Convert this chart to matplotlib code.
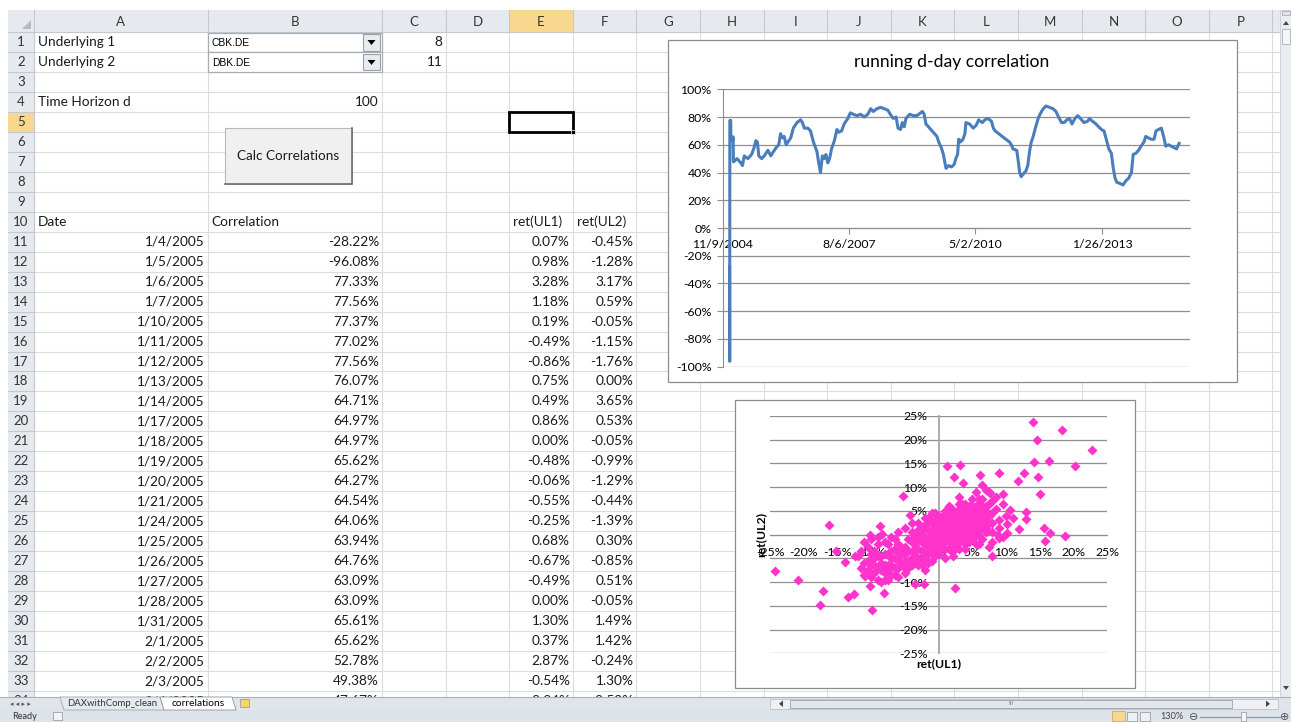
import datetime as dt
import matplotlib
matplotlib.use('Agg')
import matplotlib.pyplot as plt
from matplotlib.patches import Rectangle, Polygon

# sheet table (rows 11-34)
table_dates = ['1/4/2005', '1/5/2005', '1/6/2005', '1/7/2005', '1/10/2005', '1/11/2005',
               '1/12/2005', '1/13/2005', '1/14/2005', '1/17/2005', '1/18/2005', '1/19/2005',
               '1/20/2005', '1/21/2005', '1/24/2005', '1/25/2005', '1/26/2005', '1/27/2005',
               '1/28/2005', '1/31/2005', '2/1/2005', '2/2/2005', '2/3/2005', '2/4/2005']
table_corr = [-28.22, -96.08, 77.33, 77.56, 77.37, 77.02, 77.56, 76.07, 64.71, 64.97, 64.97, 65.62,
              64.27, 64.54, 64.06, 63.94, 64.76, 63.09, 63.09, 65.61, 65.62, 52.78, 49.38, 47.67]
ret_ul1 = [0.07, 0.98, 3.28, 1.18, 0.19, -0.49, -0.86, 0.75, 0.49, 0.86, 0.00, -0.48,
           -0.06, -0.55, -0.25, 0.68, -0.67, -0.49, 0.00, 1.30, 0.37, 2.87, -0.54, -0.34]
ret_ul2 = [-0.45, -1.28, 3.17, 0.59, -0.05, -1.15, -1.76, 0.00, 3.65, 0.53, -0.05, -0.99,
           -1.29, -0.44, -1.39, 0.30, -0.85, 0.51, -0.05, 1.49, 1.42, -0.24, 1.30, -2.50]

# running correlation after the table rows (%)
trend_dates = [
    '2005-03-04', '2005-04-02', '2005-04-16', '2005-04-30', '2005-05-29', '2005-06-27', '2005-07-17', '2005-07-31', '2005-08-12', '2005-08-23',
    '2005-09-15', '2005-10-05', '2005-11-03', '2005-11-26', '2005-12-16', '2006-01-08', '2006-01-28', '2006-02-11', '2006-02-26', '2006-03-12',
    '2006-03-27', '2006-04-10', '2006-05-03', '2006-05-23', '2006-06-21', '2006-07-20', '2006-08-03', '2006-08-18', '2006-09-15', '2006-10-06',
    '2006-10-29', '2006-11-26', '2006-12-10', '2006-12-24', '2007-01-08', '2007-01-22', '2007-02-05', '2007-02-20', '2007-03-06', '2007-03-21',
    '2007-04-13', '2007-05-03', '2007-05-17', '2007-06-09', '2007-06-29', '2007-07-28', '2007-08-17', '2007-09-09', '2007-10-08', '2007-11-06',
    '2007-12-04', '2008-01-02', '2008-01-25', '2008-02-14', '2008-03-14', '2008-04-12', '2008-05-10', '2008-06-08', '2008-06-28', '2008-07-21',
    '2008-08-13', '2008-08-28', '2008-09-17', '2008-10-01', '2008-10-16', '2008-10-30', '2008-11-28', '2008-12-27', '2009-01-24', '2009-02-22',
    '2009-03-09', '2009-03-23', '2009-04-06', '2009-05-05', '2009-06-03', '2009-07-02', '2009-07-16', '2009-08-05', '2009-08-22', '2009-09-03',
    '2009-09-12', '2009-10-02', '2009-10-25', '2009-11-16', '2009-11-28', '2009-12-12', '2009-12-21', '2010-01-04', '2010-01-24', '2010-02-08',
    '2010-02-16', '2010-03-17', '2010-04-15', '2010-05-08', '2010-05-28', '2010-06-26', '2010-07-16', '2010-08-08', '2010-09-06', '2010-09-21',
    '2010-10-05', '2010-11-03', '2010-11-30', '2010-12-29', '2011-01-27', '2011-02-10', '2011-02-24', '2011-03-25', '2011-04-08', '2011-04-17',
    '2011-04-29', '2011-05-16', '2011-06-05', '2011-06-20', '2011-07-04', '2011-07-18', '2011-08-02', '2011-08-22', '2011-09-14', '2011-10-13',
    '2011-11-10', '2011-12-09', '2012-01-06', '2012-01-29', '2012-02-19', '2012-03-13', '2012-04-02', '2012-04-25', '2012-05-15', '2012-06-04',
    '2012-06-27', '2012-07-20', '2012-08-09', '2012-09-07', '2012-10-06', '2012-10-20', '2012-11-12', '2012-12-11', '2012-12-31', '2013-01-23',
    '2013-02-12', '2013-03-05', '2013-03-22', '2013-04-11', '2013-04-25', '2013-05-10', '2013-05-24', '2013-06-22', '2013-07-12', '2013-08-04',
    '2013-08-27', '2013-09-17', '2013-10-01', '2013-10-24', '2013-11-12', '2013-12-02', '2013-12-25', '2014-01-08', '2014-01-28', '2014-02-20',
    '2014-03-15', '2014-03-30', '2014-04-19', '2014-05-12', '2014-06-01', '2014-06-15', '2014-07-08', '2014-07-28', '2014-08-20', '2014-09-09',
    '2014-09-29']
trend_values = [50, 47, 45, 52, 50, 53, 58, 63, 62, 52,
                50, 52, 56, 52, 55, 58, 60, 68, 65, 66,
                60, 62, 65, 72, 76, 78, 76, 72, 72, 70,
                62, 55, 47, 40, 52, 50, 53, 47, 50, 57,
                63, 71, 69, 70, 75, 79, 83, 82, 81, 82,
                80, 82, 86, 84, 86, 87, 86, 85, 82, 79,
                80, 72, 71, 76, 73, 79, 82, 81, 81, 83,
                84, 82, 75, 72, 69, 66, 62, 58, 53, 47,
                43, 45, 44, 46, 50, 53, 64, 62, 64, 68,
                76, 75, 72, 74, 78, 76, 78, 79, 77, 72,
                70, 68, 66, 64, 62, 60, 57, 56, 47, 40,
                37, 39, 41, 45, 55, 62, 66, 73, 80, 85,
                88, 87, 86, 84, 80, 76, 76, 78, 79, 75,
                79, 81, 79, 76, 77, 79, 77, 75, 73, 71,
                70, 63, 57, 54, 44, 36, 33, 32, 31, 34,
                36, 40, 53, 54, 56, 59, 62, 66, 65, 64,
                64, 70, 71, 72, 65, 59, 60, 59, 58, 57,
                61]

# scatter: scattered outlying returns (%)
outlier_ul1 = [14.0, 18.3, 14.6, 22.8, 14.1, 16.4, 20.2, 14.8, 15.0, 12.7,
               11.8, 9.0, 1.3, 3.2, 2.3, 3.6, 6.1, 6.5, 7.7, 9.5,
               10.6, 13.0, 13.0, 12.0, 15.6, 16.6, 18.7, 15.8, 10.2, 10.1,
               8.9, 9.0, 7.9, 2.5, 2.2, -5.2, -16.3, -15.2, -13.9, -12.4,
               -24.2, -20.8, -17.1, -17.6, -13.4, -12.5, -9.9, -8.1, -10.2, -10.9,
               -3.5, -2.2, -8.7, -10.2, -8.4, -4.2]
outlier_ul2 = [23.7, 22.1, 19.9, 17.8, 15.4, 15.5, 14.4, 12.2, 8.6, 12.9,
               11.4, 13.0, 14.4, 14.7, 12.1, 10.9, 12.6, 10.5, 8.8, 8.6,
               5.2, 4.8, 3.2, 1.2, 1.5, 0.4, -0.2, -1.3, 2.2, 0.3,
               0.0, -0.8, -4.4, -11.2, -4.4, 8.1, 2.0, -3.4, -5.7, -4.6,
               -7.7, -9.6, -11.9, -14.9, -13.1, -12.6, -15.9, -12.3, -10.8, -8.8,
               -10.4, -10.4, 1.8, -0.1, 0.1, 4.1]

# scatter: dense central cloud (%)
core_ul1 = [-12, -11, -10.5, -10, -9.5, -9, -9, -8.5, -8, -8,
            -7.5, -7, -7, -6.5, -6.5, -6, -6, -11.5, -9, -8,
            -7, -10, -9.5, -8.5, -7.5, -6, -5, -4.5,
            -5.5, -5, -5, -4.5, -4.5, -4, -4, -3.5, -3.5, -3,
            -3, -3, -2.5, -2.5, -2, -2, -2, -1.5, -1.5, -1,
            -1, -1, -0.5, -0.5, 0, 0, 0, 0, 0, -1,
            -2, -3, -6, -5, -4, -1, -3, -2,
            0.5, 0.5, 0.5, 1, 1, 1, 1, 1.5, 1.5, 1.5,
            2, 2, 2, 2, 2.5, 2.5, 2.5, 3, 3, 3,
            3, 3.5, 3.5, 3.5, 3.5, 4, 4, 4, 4, 4.5,
            4.5, 4.5, 4.5, 5, 5, 5, 5, 5, 5.5, 5.5,
            5.5, 5.5, 6, 6, 6, 6, 6.5, 6.5, 6.5, 6.5,
            7, 7, 7, 7.5, 7.5, 8, 8, 8, 2, 3,
            4, 1, 5.5, 7]
core_ul2 = [-4.5, -6, -7.5, -9, -5, -7, -9.5, -6, -8, -4,
            -6.5, -5, -8.5, -3, -7, -5.5, -2, -3.5, -2, -1.5,
            -0.5, -1, -3.5, -10, -9.5, -9, -8, -7,
            -4, -2.5, -5.5, -1, -3.5, -5, 0.5, -2, -4.5, -1,
            -3, 1, -5, 0, -2, 2, -4, -1, 1, -3,
            0, 2.5, -1.5, 1.5, -4, -2, 0, 2, 4, 4.5,
            3.5, 2.5, 0.5, 1.5, 2.5, -5.5, -6.5, -7.5,
            -1, 1, 3, -3, 0, 2, 5, -1.5, 1.5, 4,
            -0.5, 2.5, 5.5, 0.5, -2, 1.5, 3.5, 0, 2, 4.5,
            6.5, -1, 1, 3, 5.5, 0, 2, 4, 6.5, 1,
            3, 5, -1.5, 0, 2, 4, 6, 7.5, 1, 3,
            5, -2, 2, 4, 6.5, 0, 3, 5, 7.5, -1,
            1.5, 4, 6, 2.5, -2.5, 0.5, 4.5, 7, -3.5, -3,
            -3, -5, 9, 9.5]

# scatter: points filling the gaps of the cloud (%)
fill_ul1 = [-11.5, -11, -10.5, -10, -10, -9.5, -9.5, -9, -8.5, -8.5,
            -8, -8, -7.5, -7.5, -7, -7, -6.5, -6.5, -6, -6,
            -5.5, -5.5, -5, -5, -4.5, -11, -10.5, -9, -7.5, -6.5,
            -4, -4, -3.5, -3.5, -3, -3, -2.5, -2.5, -2.5, -2,
            -2, -1.5, -1.5, -1.5, -1, -1, -0.5, -0.5, -0.5, 0,
            0, 0, 0, -4, -3.5, -2.5, -1.5, -0.5, -1.5, -0.5,
            0.5, 0.5, 0.5, 1, 1, 1, 1, 1.5, 1.5, 1.5,
            2, 2, 2, 2, 2.5, 2.5, 2.5, 2.5, 3, 3,
            3, 3, 3.5, 3.5, 3.5, 3.5, 4, 4, 4, 4,
            4.5, 4.5, 4.5, 4.5, 5, 5, 5, 5, 5.5, 5.5,
            5.5, 5.5, 6, 6, 6, 6, 6.5, 6.5, 6.5, 7,
            7, 7, 7.5, 7.5, 8, 6, 4, 2.5, 1.5, 3,
            8.5, 9, 9.5, 8.5, 9, 10, 7.5, 8, 11, 9.5]
fill_ul2 = [-7, -8.5, -5.5, -6.5, -4, -8, -6.5, -4.5, -7.5, -4.5,
            -6.5, -9.5, -4, -7.5, -3.5, -6.5, -5, -8.5, -4, -7,
            -6, -2.5, -4, -7, -5.5, -1.5, -2.5, -0.5, -2, -1,
            -3.5, -1.5, -0.5, -3, -5, 0, -3.5, -1.5, 1.5, -0.5,
            -5.5, -2.5, -4, 2.5, -1.5, 1, -3, 0, 3, -1,
            1, 3, -3, -6.5, -6, -6.5, -6, -4.5, 3.5, 4.5,
            0, 2, -2.5, 1, 3, 4, -1, 0.5, 2.5, -3,
            1.5, 3.5, 4.5, -1.5, 0.5, 2.5, 4.5, -0.5, 1, 3,
            5.5, -1.5, 0, 2, 4, 6.5, 1, 3, 5, -1,
            0, 2, 4, 6, 1, 3, 5, -1, 2, 4,
            6, 0, 1, 3, 5, 7.5, 2, 4, 6, 3,
            5, 0.5, 4, 6.5, 2.5, -2, -2, -3, 6, 8,
            5.5, 3, 6.5, 8, 1.5, 4, 9, -1.5, 3.5, -0.5]

W, H = 1291, 722
plt.rcParams['font.family'] = ['Lato', 'DejaVu Sans']

fig = plt.figure(figsize=(W / 100, H / 100), dpi=100)
bg = fig.add_axes([0, 0, 1, 1])
bg.set_xlim(0, W)
bg.set_ylim(H, 0)
bg.axis('off')

ROW_H = 19.97


def px_box(l, t, r, b):
    return [l / W, 1 - b / H, (r - l) / W, (b - t) / H]


def ftext(x, y, s, **kw):
    return fig.text(x / W, 1 - y / H, s, **kw)


def row_top(n):
    return 32 + ROW_H * (n - 1)


# column edges, A and B wide, rest standard
col_edges = [34, 207.5, 382] + [382 + 63.6 * k for k in range(1, 15)]
col_names = 'ABCDEFGHIJKLMNOP'
grid_c = '#dadcdf'
head_c = '#e6e9ee'
head_line = '#c3c9d1'
sel_c = '#f8d88f'
txt_c = '#1a1a1a'
last_y = 697

# gridlines
for n in range(1, 36):
    y = row_top(n)
    if y < last_y:
        bg.plot([34, 1280], [y, y], color=grid_c, lw=0.8, zorder=1)
for x in col_edges:
    bg.plot([x, x], [32, last_y], color=grid_c, lw=0.8, zorder=1)

# header row and row-number column
bg.add_patch(Rectangle((8, 10), 1272, 22, fc=head_c, ec='none', zorder=2))
bg.add_patch(Rectangle((8, 32), 26, last_y - 32, fc=head_c, ec='none', zorder=2))
bg.add_patch(Rectangle((col_edges[4], 10), col_edges[5] - col_edges[4], 22, fc=sel_c, ec='none', zorder=2))
bg.add_patch(Rectangle((8, row_top(5)), 26, ROW_H, fc=sel_c, ec='none', zorder=2))
bg.plot([8, 1280], [32, 32], color=head_line, lw=0.8, zorder=3)
bg.plot([34, 34], [10, last_y], color=head_line, lw=0.8, zorder=3)
for x in col_edges[1:]:
    bg.plot([x, x], [10, 32], color=head_line, lw=0.8, zorder=3)
for i, name in enumerate(col_names):
    bg.text((col_edges[i] + col_edges[i + 1]) / 2, 21.5, name, ha='center', va='center',
            fontsize=9.5, color='#333333', zorder=4)
for n in range(1, 35):
    y = row_top(n)
    if y + ROW_H < last_y:
        bg.plot([8, 34], [y + ROW_H, y + ROW_H], color=head_line, lw=0.8, zorder=3)
    bg.text(21, y + 10, str(n), ha='center', va='center', fontsize=9.5, color='#333333', zorder=4)
bg.add_patch(Polygon([(22, 29), (31, 29), (31, 20)], closed=True, fc='#b4bac3', ec='none', zorder=4))


def cell(col, row, s, align='left', **kw):
    i = col_names.index(col)
    y = row_top(row) + 10
    if align == 'left':
        bg.text(col_edges[i] + 4, y, s, ha='left', va='center', fontsize=9.8, color=txt_c, zorder=4, **kw)
    else:
        bg.text(col_edges[i + 1] - 3, y, s, ha='right', va='center', fontsize=9.8, color=txt_c, zorder=4, **kw)


cell('A', 1, 'Underlying 1')
cell('A', 2, 'Underlying 2')
cell('C', 1, '8', 'right')
cell('C', 2, '11', 'right')
cell('A', 4, 'Time Horizon d')
cell('B', 4, '100', 'right')
cell('A', 10, 'Date')
cell('B', 10, 'Correlation')
cell('E', 10, 'ret(UL1)')
cell('F', 10, 'ret(UL2)')
for k in range(len(table_dates)):
    r = 11 + k
    cell('A', r, table_dates[k], 'right')
    cell('B', r, f'{table_corr[k]:.2f}%', 'right')
    cell('E', r, f'{ret_ul1[k]:.2f}%', 'right')
    cell('F', r, f'{ret_ul2[k]:.2f}%', 'right')

# the two dropdown boxes in B1 and B2
for r, label in [(1, 'CBK.DE'), (2, 'DBK.DE')]:
    y = row_top(r)
    bg.add_patch(Rectangle((208, y + 0.5), 174, 19.5, fc='white', ec='#a7adb5', lw=0.9, zorder=5))
    bg.add_patch(Rectangle((363, y + 2), 17, 16.5, fc='#e9ebee', ec='#9aa1aa', lw=0.8, zorder=6))
    bg.add_patch(Polygon([(367.5, y + 8), (375.5, y + 8), (371.5, y + 13)], closed=True,
                         fc='black', ec='none', zorder=7))
    bg.text(212, y + 11, label, ha='left', va='center', fontsize=7.4,
            family='Liberation Sans', color='black', zorder=7)

# macro button
bg.add_patch(Rectangle((225, 128), 127, 56, fc='#f0f0f0', ec='#b9b9b9', lw=0.8, zorder=5))
bg.plot([225, 352, 352], [184, 184, 128], color='#6e6e6e', lw=1.2, zorder=6)
bg.text(288.5, 156, 'Calc Correlations', ha='center', va='center', fontsize=9.7, color=txt_c, zorder=7)

# active cell E5
bg.add_patch(Rectangle((col_edges[4], row_top(5)), col_edges[5] - col_edges[4], ROW_H,
                       fc='none', ec='black', lw=2, zorder=6))
bg.add_patch(Rectangle((col_edges[5] - 2, row_top(6) - 2), 4, 4, fc='black', ec='white', lw=0.5, zorder=7))

# vertical scroll bar
bg.add_patch(Rectangle((1280, 10), 11, last_y - 10, fc='#e9ecf0', ec='#c7ccd3', lw=0.6, zorder=8))
bg.add_patch(Rectangle((1282, 11), 8, 4, fc='#dfe3e8', ec='#9aa1aa', lw=0.5, zorder=9))
bg.add_patch(Polygon([(1283, 25), (1289, 25), (1286, 21)], closed=True, fc='#444444', ec='none', zorder=9))
bg.add_patch(Rectangle((1282, 29), 8, 15, fc='#f4f6f8', ec='#9aa1aa', lw=0.5, zorder=9))
bg.add_patch(Polygon([(1283, 686), (1289, 686), (1286, 690)], closed=True, fc='#444444', ec='none', zorder=9))

# sheet tabs and horizontal scroll bar
bg.add_patch(Rectangle((0, last_y), W, 13, fc='#e1e5ea', ec='none', zorder=8))
bg.plot([0, W], [last_y, last_y], color='#a9b0b9', lw=0.8, zorder=9)
bg.text(10, 703.5, '\u25c2 \u25c2 \u25b8 \u25b8', ha='left', va='center', fontsize=5,
        family='DejaVu Sans', color='#555555', zorder=9)
bg.add_patch(Polygon([(60, last_y), (160, last_y), (164, 710), (64, 710)], closed=True,
                     fc='#e6e9ee', ec='#a0a7b0', lw=0.6, zorder=9))
bg.text(112, 703.5, 'DAXwithComp_clean', ha='center', va='center', fontsize=6.9, color='#333333', zorder=10)
bg.add_patch(Polygon([(160, last_y), (232, last_y), (236, 710), (164, 710)], closed=True,
                     fc='white', ec='#8a929c', lw=0.6, zorder=10))
bg.text(198, 703.5, 'correlations', ha='center', va='center', fontsize=7.4, color='black', zorder=11)
bg.add_patch(Rectangle((240, 699), 9, 8, fc='#f5d36e', ec='#8a929c', lw=0.5, zorder=10))
bg.add_patch(Rectangle((770, 698.5), 508, 10.5, fc='#eef0f3', ec='#b9bfc7', lw=0.6, zorder=9))
bg.add_patch(Rectangle((790, 699.5), 442, 8.5, fc='#e3e7ec', ec='#9aa1aa', lw=0.6, zorder=10))
bg.text(1011, 703.8, 'III', ha='center', va='center', fontsize=4.5, color='#777777', zorder=11)
bg.add_patch(Polygon([(783, 700.5), (783, 707), (779, 703.8)], closed=True, fc='#444444', ec='none', zorder=10))
bg.add_patch(Polygon([(1266, 700.5), (1266, 707), (1270, 703.8)], closed=True, fc='#444444', ec='none', zorder=10))

# status bar
bg.add_patch(Rectangle((0, 710), W, 12, fc='#dde3eb', ec='none', zorder=8))
bg.text(12, 716.5, 'Ready', ha='left', va='center', fontsize=6.6, color='#333333', zorder=9)
bg.add_patch(Rectangle((53, 712), 9, 8, fc='#f3f3f3', ec='#8a929c', lw=0.5, zorder=9))
bg.add_patch(Rectangle((1112, 711), 13, 10, fc='#f8d88f', ec='#c9a24b', lw=0.5, zorder=9))
bg.add_patch(Rectangle((1127, 711.5), 10, 9, fc='#eef0f3', ec='#8a929c', lw=0.5, zorder=9))
bg.add_patch(Rectangle((1140, 711.5), 10, 9, fc='#eef0f3', ec='#8a929c', lw=0.5, zorder=9))
bg.text(1172, 716.5, '130%', ha='center', va='center', fontsize=6.6, color='#444444', zorder=9)
bg.plot([1200, 1280], [716.5, 716.5], color='#8a929c', lw=0.8, zorder=9)
bg.add_patch(Rectangle((1241, 712), 5, 9, fc='#f4f6f8', ec='#8a929c', lw=0.5, zorder=10))
bg.text(1194, 716.5, '\u2296', ha='center', va='center', fontsize=8, family='DejaVu Sans', color='#555555', zorder=10)
bg.text(1285, 716.5, '\u2295', ha='center', va='center', fontsize=8, family='DejaVu Sans', color='#555555', zorder=10)

# chart frames
chart_edge = '#8c8c8c'
bg.add_patch(Rectangle((668, 40), 569, 342, fc='white', ec=chart_edge, lw=0.9, zorder=6))
bg.add_patch(Rectangle((735, 400), 400, 288, fc='white', ec=chart_edge, lw=0.9, zorder=6))

grid_gray = '#8f8f8f'

# running correlation line chart
ax1 = fig.add_axes(px_box(722.5, 89.3, 1189.6, 366.7))
ax1.patch.set_visible(False)
line_dates = [dt.datetime.strptime(d, '%m/%d/%Y') for d in table_dates]
line_dates += [dt.datetime.strptime(d, '%Y-%m-%d') for d in trend_dates]
line_values = table_corr + trend_values
ax1.plot(line_dates, line_values, color='#4a7ebb', lw=2.2, solid_joinstyle='round')
axis_start = dt.datetime(2004, 11, 9)
ax1.set_xlim(axis_start, dt.datetime(2014, 12, 21))
ax1.set_ylim(-100, 100)
ax1.set_yticks(range(-100, 101, 20))
ax1.set_yticklabels([f'{v}%' for v in range(-100, 101, 20)])
tick_days = [axis_start + dt.timedelta(days=1000 * k) for k in range(4)]
ax1.set_xticks(tick_days)
ax1.set_xticklabels([f'{d.month}/{d.day}/{d.year}' for d in tick_days])
ax1.grid(axis='y', color=grid_gray, lw=0.9)
ax1.set_axisbelow(True)
for side in ['top', 'right']:
    ax1.spines[side].set_visible(False)
ax1.spines['bottom'].set_position(('data', 0))
ax1.spines['bottom'].set_color(grid_gray)
ax1.spines['left'].set_color(grid_gray)
ax1.tick_params(axis='both', length=4, color=grid_gray, labelsize=8.8, labelcolor='black')
ax1.tick_params(axis='y', pad=4)
ax1.tick_params(axis='x', pad=4)
ftext(952, 62, 'running d-day correlation', ha='center', va='center', fontsize=12.6, color='black')

# return scatter chart
ax2 = fig.add_axes(px_box(770, 416, 1107, 653.3))
ax2.patch.set_visible(False)
ax2.scatter(outlier_ul1 + core_ul1 + fill_ul1 + ret_ul1, outlier_ul2 + core_ul2 + fill_ul2 + ret_ul2,
            marker='D', s=26, color='#ff33cc', linewidths=0, zorder=3)
ax2.set_xlim(-25, 25)
ax2.set_ylim(-25, 25)
ticks = list(range(-25, 26, 5))
ax2.set_xticks(ticks)
ax2.set_yticks(ticks)
ax2.set_xticklabels([f'{v}%' for v in ticks])
ax2.set_yticklabels([f'{v}%' for v in ticks])
ax2.grid(axis='y', color=grid_gray, lw=0.9)
ax2.set_axisbelow(True)
for side in ['top', 'right']:
    ax2.spines[side].set_visible(False)
ax2.spines['left'].set_position(('data', 0))
ax2.spines['bottom'].set_position(('data', 0))
ax2.spines['left'].set_color('#a6a6a6')
ax2.spines['left'].set_linewidth(1.3)
ax2.spines['bottom'].set_color(grid_gray)
ax2.tick_params(axis='both', length=0, labelsize=8.8, labelcolor='black')
ax2.tick_params(axis='y', pad=8)
ax2.tick_params(axis='x', pad=9)
ftext(939, 664, 'ret(UL1)', ha='center', va='center', fontsize=8.8, fontweight='bold')
ftext(761, 534, 'ret(UL2)', ha='center', va='center', fontsize=8.8, fontweight='bold', rotation=90)

plt.savefig('out.png', dpi=100)
